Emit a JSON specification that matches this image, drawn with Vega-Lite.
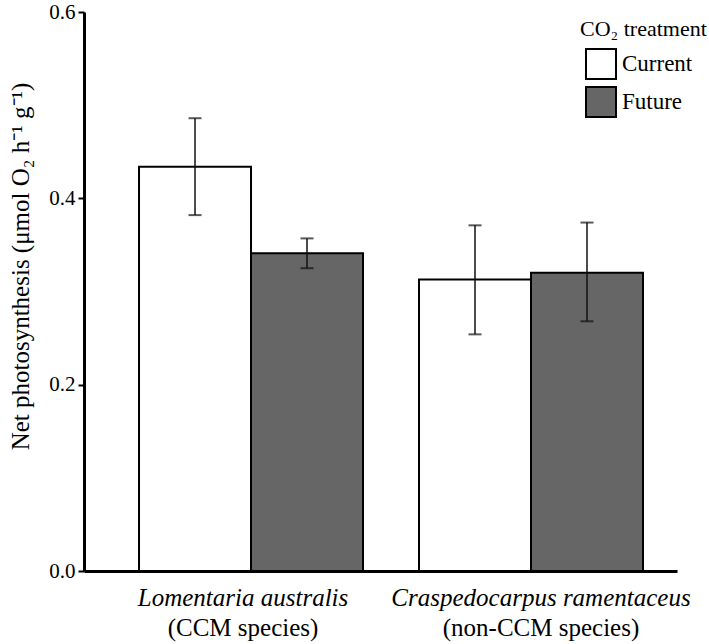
{
  "$schema": "https://vega.github.io/schema/vega-lite/v6.json",
  "width": 593,
  "height": 559,
  "autosize": "none",
  "padding": {"left": 84, "top": 12, "right": 32, "bottom": 73},
  "background": "white",
  "config": {
    "font": "Liberation Serif",
    "view": {"stroke": null},
    "axis": {"labelFont": "Liberation Serif", "titleFont": "Liberation Serif"},
    "legend": {"labelFont": "Liberation Serif", "titleFont": "Liberation Serif"}
  },
  "data": {"values": [
    {"species": "Lomentaria australis", "treatment": "Current", "value": 0.434, "lo": 0.382, "hi": 0.486},
    {"species": "Lomentaria australis", "treatment": "Future", "value": 0.341, "lo": 0.325, "hi": 0.357},
    {"species": "Craspedocarpus ramentaceus", "treatment": "Current", "value": 0.313, "lo": 0.254, "hi": 0.371},
    {"species": "Craspedocarpus ramentaceus", "treatment": "Future", "value": 0.320, "lo": 0.268, "hi": 0.374}
  ]},
  "resolve": {"axis": {"x": "independent"}},
  "layer": [
    {
      "mark": {"type": "bar", "stroke": "black", "strokeWidth": 2},
      "encoding": {
        "x": {"field": "species", "type": "nominal",
          "scale": {"domain": ["Lomentaria australis", "Craspedocarpus ramentaceus"], "paddingInner": 0.2, "paddingOuter": 0.159, "align": 0.618},
          "axis": {"title": null, "orient": "bottom", "labelAngle": 0, "labelFontSize": 25, "labelFontStyle": "italic", "labelColor": "black", "labelPadding": 14, "labelLimit": 0, "ticks": false, "domainColor": "black", "domainWidth": 3,
            "labelOffset": {"condition": {"test": "datum.value == 'Lomentaria australis'", "value": -8}, "value": 10}}},
        "xOffset": {"field": "treatment", "type": "nominal", "scale": {"domain": ["Current", "Future"], "paddingInner": 0, "paddingOuter": 0}},
        "y": {"field": "value", "type": "quantitative", "scale": {"domain": [0, 0.6], "nice": false},
          "axis": {"title": "Net photosynthesis (μmol O₂ h⁻¹ g⁻¹)", "titleFontSize": 25, "titleFontWeight": "normal", "titleColor": "black", "titleX": -51, "titleY": 254,
            "values": [0, 0.2, 0.4, 0.6], "format": ".1f", "labelFontSize": 21, "labelColor": "black", "grid": false,
            "domainColor": "black", "domainWidth": 3, "tickColor": "black", "tickWidth": 2, "tickSize": 6, "labelPadding": 3}},
        "fill": {"field": "treatment", "type": "nominal", "scale": {"domain": ["Current", "Future"], "range": ["white", "#666666"]},
          "legend": {"orient": "none", "legendX": 496, "legendY": 7, "title": "CO₂ treatment", "titleFontSize": 22, "titleFontWeight": "normal", "titleColor": "black", "titlePadding": 7,
            "labelFontSize": 23, "labelColor": "black", "labelOffset": 5, "symbolType": "square", "symbolSize": 900, "symbolStrokeColor": "black", "symbolStrokeWidth": 2, "symbolOffset": 5, "rowPadding": 0, "padding": 0}}
      }
    },
    {
      "mark": {"type": "rule", "strokeWidth": 1.5, "color": "#111111"},
      "encoding": {
        "x": {"field": "species", "type": "nominal",
          "axis": {"title": null, "orient": "bottom", "labelAngle": 0, "labelFontSize": 25, "labelFontStyle": "normal", "labelColor": "black", "labelPadding": 44, "labelLimit": 0, "ticks": false, "domain": false,
            "labelOffset": {"condition": {"test": "datum.value == 'Lomentaria australis'", "value": -8}, "value": 10},
            "labelExpr": "datum.value == 'Lomentaria australis' ? '(CCM species)' : '(non-CCM species)'"}},
        "xOffset": {"field": "treatment", "type": "nominal"},
        "y": {"field": "lo", "type": "quantitative"},
        "y2": {"field": "hi"}
      }
    },
    {
      "mark": {"type": "tick", "orient": "horizontal", "size": 13, "thickness": 2, "color": "#111111"},
      "encoding": {
        "x": {"field": "species", "type": "nominal", "axis": null},
        "xOffset": {"field": "treatment", "type": "nominal"},
        "y": {"field": "lo", "type": "quantitative"}
      }
    },
    {
      "mark": {"type": "tick", "orient": "horizontal", "size": 13, "thickness": 2, "color": "#111111"},
      "encoding": {
        "x": {"field": "species", "type": "nominal", "axis": null},
        "xOffset": {"field": "treatment", "type": "nominal"},
        "y": {"field": "hi", "type": "quantitative"}
      }
    }
  ]
}
